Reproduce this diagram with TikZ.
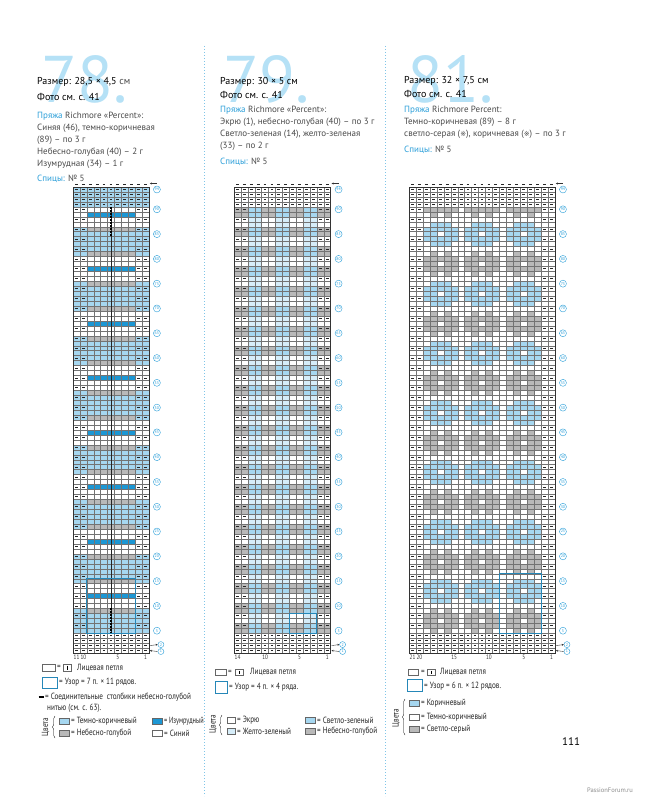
\documentclass[tikz,border=0pt]{standalone}
\usepackage{fontspec}
\usetikzlibrary{arrows.meta,decorations.pathreplacing}
\setmainfont{PT Sans}
\newfontfamily\cond{PT Sans}[FakeStretch=0.8]
\newfontfamily\condn{PT Sans}[FakeStretch=0.7]
\newfontfamily\dejavu{DejaVu Sans}
\definecolor{lb}{HTML}{A6D7F0}
\definecolor{gr}{HTML}{B9B9B9}
\definecolor{em}{HTML}{1C97D4}
\definecolor{pale}{HTML}{D6EDF9}
\definecolor{tblue}{HTML}{2B9FD9}
\definecolor{bign}{HTML}{B5E1F6}
\definecolor{txt}{HTML}{4A4A4A}
\tikzset{
 txtnode/.style={anchor=west, inner sep=0pt, font=\fontsize{9}{10}\selectfont, text=txt},
 headnode/.style={anchor=west, inner sep=0pt, font=\fontsize{10}{11}\selectfont, text=black},
 bignode/.style={anchor=base west, inner sep=0pt, font=\fontsize{66}{66}\selectfont, text=bign},
 lgnode/.style={anchor=west, inner sep=0pt, font=\cond\fontsize{9}{9}\selectfont, text=black!85},
 numnode/.style={inner sep=0pt, font=\cond\fontsize{6.5}{6.5}\selectfont, text=black!80},
 rowlab/.style={circle, draw=tblue, line width=0.4pt, fill=white, inner sep=0pt, minimum size=7pt, font=\fontsize{4}{4}\selectfont, text=tblue},
 rowlabs/.style={rowlab, minimum size=6pt},
 gridl/.style={draw=black!55, line width=0.25pt},
 frame/.style={draw=black!80, line width=0.5pt},
 dmark/.style={draw=black!85, line width=0.7pt},
 pbox/.style={draw=tblue!85!black, line width=0.9pt},
 lbox/.style={draw=black!60, line width=0.35pt},
 sepline/.style={draw=tblue!60, line width=0.9pt, dash pattern=on 0.9pt off 2.1pt},
 arr/.style={-{Stealth[length=2pt,width=2pt]}, line width=0.4pt, draw=black!80},
}
\newcommand\chartgrid[4]{% #1 x0, #2 ncols, #3 cw, #4 name
  \foreach \ii in {0,...,#2} \draw[gridl] ({#1+\ii*#3},187) -- ({#1+\ii*#3},653);
  \foreach \jj in {0,...,94} \draw[gridl] (#1,{653-\jj*4.9574}) -- ({#1+#2*#3},{653-\jj*4.9574});
  \draw[frame] (#1,187) rectangle ({#1+#2*#3},653);
  \foreach \ii in {1,...,#2} \draw[dmark] ({#1+(\ii-0.5)*#3-1.4},184) -- ++(2.8,0);
  \coordinate (#4ta) at ({#1+#2*#3+8},183.5);
  \coordinate (#4tb) at ({#1+#2*#3+1},183.5);
  \draw[arr] (#4ta) -- (#4tb);
  \foreach \nn in {90,85,...,5} \node[rowlab] (#4l\nn) at ({#1+#2*#3+8},{653-(\nn-0.5)*4.9574}) {\nn};
  \node[rowlab] (#4l94) at ({#1+#2*#3+8},{653-93.5*4.9574}) {94};
  \node[rowlabs] (#4r2) at ({#1+#2*#3+12},{653-1.7*4.9574}) {2};
  \node[rowlabs] (#4r1) at ({#1+#2*#3+12},{653-0.3*4.9574}) {1};
  \coordinate (#4a2) at ({#1+#2*#3+1},{653-1.5*4.9574});
  \coordinate (#4a1) at ({#1+#2*#3+1},{653-0.5*4.9574});
  \draw[arr] (#4a2) -- (#4r2.west);
  \draw[arr] (#4r1.west) -- (#4a1);
}
\newcommand\dashcell[3]{%
  \draw[dmark] ({#1+(\cl-0.5)*#2-1.4},{653-(\rw-0.5)*4.9574}) -- ++(2.8,0);
}
\begin{document}
\begin{tikzpicture}[x=1pt,y=-1pt]
\useasboundingbox (0,0) rectangle (646,800);
\fill[white] (0,0) rectangle (646,800);

\draw[sepline] (204,46) -- (204,796);
\draw[sepline] (385,46) -- (385,796);

\node[bignode] (bA) at (41,102) {78.};
\node[bignode] (bB) at (223,102) {79.};
\node[bignode] (bC) at (407,102) {81.};

\node[headnode] (hA1) at (37,82) {Размер: 28,5 × 4,5 \textcolor{txt}{см}};
\node[headnode] (hA2) at (37,97) {Фото см. с. 41};
\node[txtnode] (hA3) at (37,116) {\textcolor{tblue}{Пряжа} Richmore «Percent»:};
\node[txtnode] (hA4) at (37,128) {Синяя (46), темно-коричневая};
\node[txtnode] (hA5) at (37,140) {(89) – по 3 г};
\node[txtnode] (hA6) at (37,152) {Небесно-голубая (40) – 2 г};
\node[txtnode] (hA7) at (37,164) {Изумрудная (34) – 1 г};
\node[txtnode] (hA8) at (37,179) {\textcolor{tblue}{Спицы:} № 5};

\node[headnode] (hB1) at (220,82) {Размер: 30 × 5 см};
\node[headnode] (hB2) at (220,95) {Фото см. с. 41};
\node[txtnode] (hB3) at (220,110) {\textcolor{tblue}{Пряжа} Richmore «Percent»:};
\node[txtnode] (hB4) at (220,122) {Экрю (1), небесно-голубая (40) – по 3 г};
\node[txtnode] (hB5) at (220,134) {Светло-зеленая (14), желто-зеленая};
\node[txtnode] (hB6) at (220,146) {(33) – по 2 г};
\node[txtnode] (hB7) at (220,162) {\textcolor{tblue}{Спицы:} № 5};

\node[headnode] (hC1) at (404,81) {Размер: 32 × 7,5 см};
\node[headnode] (hC2) at (404,94) {Фото см. с. 41};
\node[txtnode] (hC3) at (404,110) {\textcolor{tblue}{Пряжа} Richmore Percent:};
\node[txtnode] (hC4) at (404,122) {Темно-коричневая (89) – 8 г};
\node[txtnode] (hC5) at (404,134) {светло-серая ({\dejavu\fontsize{7}{7}\selectfont ※}), коричневая ({\dejavu\fontsize{7}{7}\selectfont ※}) – по 3 г};
\node[txtnode] (hC6) at (404,150) {\textcolor{tblue}{Спицы:} № 5};

% ================= CHART 78 =================
\foreach \rw in {1,...,94}{%
  \def\alld{0}%
  \ifnum\rw<5 \def\edgec{white}\def\innc{white}\def\alld{1}%
  \else\ifnum\rw>90 \def\edgec{lb}\def\innc{lb}\def\alld{1}%
  \else
    \pgfmathtruncatemacro\kk{mod(\rw-5,11)}%
    \ifnum\kk<4 \def\edgec{lb}\def\innc{lb}%
    \else\ifnum\kk=4 \def\edgec{lb}\def\innc{gr}%
    \else\ifnum\kk=10 \def\edgec{lb}\def\innc{gr}%
    \else\ifnum\kk=7 \def\edgec{white}\def\innc{em}%
    \else \def\edgec{white}\def\innc{white}%
    \fi\fi\fi\fi
  \fi\fi
  \foreach \cl in {1,...,11}{%
    \ifnum\cl<3 \edef\cellc{\edgec}\else\ifnum\cl>9 \edef\cellc{\edgec}\else\edef\cellc{\innc}\fi\fi
    \fill[fill=\cellc] ({73+(\cl-1)*6.9},{653-\rw*4.9574}) rectangle ++(6.9,4.9574);
    \def\dmk{0}%
    \ifnum\alld=1 \def\dmk{1}\fi
    \ifodd\rw\else \ifnum\cl<3 \def\dmk{1}\fi \ifnum\cl>9 \def\dmk{1}\fi \fi
    \ifnum\dmk=1 \dashcell{73}{6.9}{}\fi
  }
}
\chartgrid{73}{11}{6.9}{A}
\draw[line width=0.5pt, black!85] (110.95,{653-90*4.9574}) -- (110.95,{653-4*4.9574});
\draw[line width=1.2pt, black, dash pattern=on 1.8pt off 1.2pt] (110.95,{653-90*4.9574}) -- (110.95,{653-84*4.9574});
\draw[line width=1.2pt, black, dash pattern=on 1.8pt off 1.2pt] (110.95,{653-9*4.9574}) -- (110.95,{653-4*4.9574});
\draw[pbox] (86.8,{653-15*4.9574}) rectangle (135.1,{653-4*4.9574});
\node[numnode] (nA11) at (76.5,657) {11};
\node[numnode] (nA10) at (83.4,657) {10};
\node[numnode] (nA5) at (117.9,657) {5};
\node[numnode] (nA1) at (145.5,657) {1};

% ================= CHART 79 =================
\foreach \rw in {1,...,94}{%
  \def\alld{0}%
  \ifnum\rw<5 \def\edgec{white}\def\bgc{white}\def\stc{white}\def\alld{1}%
  \else\ifnum\rw>90 \def\edgec{white}\def\bgc{white}\def\stc{white}\def\alld{1}%
  \else
    \pgfmathtruncatemacro\kk{mod(\rw-5,4)}%
    \ifnum\kk<2 \def\edgec{gr}\def\bgc{gr}\def\stc{lb}\else\def\edgec{white}\def\bgc{white}\def\stc{pale}\fi
  \fi\fi
  \foreach \cl in {1,...,14}{%
    \ifnum\cl<3 \edef\cellc{\edgec}\else\ifnum\cl>12 \edef\cellc{\edgec}\else
      \pgfmathtruncatemacro\mm{mod(\cl-3,4)}%
      \ifnum\mm<2 \edef\cellc{\stc}\else\edef\cellc{\bgc}\fi\fi\fi
    \fill[fill=\cellc] ({234+(\cl-1)*6.9},{653-\rw*4.9574}) rectangle ++(6.9,4.9574);
    \def\dmk{0}%
    \ifnum\alld=1 \def\dmk{1}\fi
    \ifodd\rw\else \ifnum\cl<3 \def\dmk{1}\fi \ifnum\cl>12 \def\dmk{1}\fi \fi
    \ifnum\dmk=1 \dashcell{234}{6.9}{}\fi
  }
}
\chartgrid{234}{14}{6.9}{B}
\draw[pbox] (289.2,{653-8*4.9574}) rectangle (316.8,{653-4*4.9574});
\node[numnode] (nB14) at (237.5,657) {14};
\node[numnode] (nB10) at (265.1,657) {10};
\node[numnode] (nB5) at (299.6,657) {5};
\node[numnode] (nB1) at (327.2,657) {1};

% ================= CHART 81 =================
\foreach \rw in {1,...,94}{%
  \def\alld{0}\def\patt{{0,0,0,0,0}}\def\pcol{white}%
  \ifnum\rw<5 \def\alld{1}\else\ifnum\rw>90 \def\alld{1}\else
    \pgfmathtruncatemacro\kk{mod(\rw-5,12)}%
    \ifcase\kk \def\patt{{0,1,0,1,0}}\def\pcol{gr}%
    \or \def\patt{{1,1,1,1,1}}\def\pcol{gr}%
    \or \def\patt{{1,1,0,1,1}}\def\pcol{gr}%
    \or \def\patt{{1,1,1,1,1}}\def\pcol{gr}%
    \or \def\patt{{0,1,0,1,0}}\def\pcol{gr}%
    \or
    \or \def\patt{{0,1,1,1,0}}\def\pcol{lb}%
    \or \def\patt{{1,1,1,1,1}}\def\pcol{lb}%
    \or \def\patt{{1,1,0,1,1}}\def\pcol{lb}%
    \or \def\patt{{1,1,1,1,1}}\def\pcol{lb}%
    \or \def\patt{{0,1,1,1,0}}\def\pcol{lb}%
    \or
    \fi
  \fi\fi
  \foreach \cl in {1,...,21}{%
    \def\cellc{white}%
    \ifnum\cl>2 \ifnum\cl<20
      \pgfmathtruncatemacro\mm{mod(\cl-2,6)}%
      \ifnum\mm>0 \pgfmathtruncatemacro\vv{\patt[\mm-1]}\ifnum\vv=1 \edef\cellc{\pcol}\fi\fi
    \fi\fi
    \fill[fill=\cellc] ({409+(\cl-1)*6.95},{653-\rw*4.9574}) rectangle ++(6.95,4.9574);
    \def\dmk{0}%
    \ifnum\alld=1 \def\dmk{1}\fi
    \ifodd\rw\else \ifnum\cl<3 \def\dmk{1}\fi \ifnum\cl>19 \def\dmk{1}\fi \fi
    \ifnum\dmk=1 \dashcell{409}{6.95}{}\fi
  }
}
\chartgrid{409}{21}{6.95}{C}
\draw[pbox] (499.35,{653-16*4.9574}) rectangle (541.05,{653-4*4.9574});
\node[numnode] (nC21) at (412.5,657) {21};
\node[numnode] (nC20) at (419.4,657) {20};
\node[numnode] (nC15) at (454.2,657) {15};
\node[numnode] (nC10) at (488.9,657) {10};
\node[numnode] (nC5) at (523.7,657) {5};
\node[numnode] (nC1) at (551.5,657) {1};

% ================= LEGEND 78 =================
\draw[lbox, fill=white] (42,664) rectangle (55,671);
\node[lgnode] (eA1) at (57,667.5) {=};
\draw[lbox, fill=white] (63,664) rectangle (71,671);
\draw[line width=0.6pt] (67,665.5) -- (67,669.5);
\node[lgnode] (tA1) at (77,667.5) {Лицевая петля};
\draw[pbox] (42,677) rectangle (57,688);
\node[lgnode] (tA2) at (59,682.5) {= Узор = 7 п. × 11 рядов.};
\draw[line width=1.6pt] (38.5,697) -- (44,697);
\node[lgnode] (tA3) at (45,697) {= Соединительные \ столбики небесно-голубой};
\node[lgnode] (tA4) at (47,708) {нитью (см. с. 63).};
\node[lgnode, anchor=center, rotate=90] (cA) at (45.5,727) {Цвета};
\draw[decorate, decoration={brace, amplitude=2.5pt}, line width=0.4pt] (55,738) -- (55,716);
\draw[lbox, fill=lb] (59,718) rectangle (69,724);
\node[lgnode] (tA5) at (71,721) {= Темно-коричневый};
\draw[lbox, fill=gr] (59,730) rectangle (69,736);
\node[lgnode] (tA6) at (71,733) {= Небесно-голубой};
\draw[lbox, fill=em] (152,718) rectangle (162,724);
\node[lgnode, font=\condn\fontsize{9}{9}\selectfont] (tA7) at (164,721) {= Изумрудный};
\draw[lbox, fill=white] (152,730) rectangle (162,736);
\node[lgnode] (tA8) at (164,733) {= Синий};

% ================= LEGEND 79 =================
\draw[lbox, fill=white] (215,669) rectangle (226,675);
\node[lgnode] (eB1) at (228,672) {=};
\draw[lbox, fill=white] (235,669) rectangle (243,675);
\draw[line width=0.6pt] (239,670.5) -- (239,673.5);
\node[lgnode] (tB1) at (250,672) {Лицевая петля};
\draw[pbox] (215,681) rectangle (227,693);
\node[lgnode] (tB2) at (229,687) {= Узор = 4 п. × 4 ряда.};
\node[lgnode, anchor=center, rotate=90] (cB) at (213,724) {Цвета};
\draw[decorate, decoration={brace, amplitude=2.5pt}, line width=0.4pt] (222,735) -- (222,715);
\draw[lbox, fill=white] (227,717) rectangle (235,723);
\node[lgnode] (tB3) at (237,720) {= Экрю};
\draw[lbox, fill=pale] (227,728) rectangle (235,734);
\node[lgnode] (tB4) at (237,731) {= Желто-зеленый};
\draw[lbox, fill=lb] (305,717) rectangle (315,723);
\node[lgnode] (tB5) at (317,720) {= Светло-зеленый};
\draw[lbox, fill=gr] (305,728) rectangle (315,734);
\node[lgnode] (tB6) at (317,731) {= Небесно-голубой};

% ================= LEGEND 81 =================
\draw[lbox, fill=white] (408,669) rectangle (418,675);
\node[lgnode] (eC1) at (421,672) {=};
\draw[lbox, fill=white] (427,669) rectangle (435,675);
\draw[line width=0.6pt] (431,670.5) -- (431,673.5);
\node[lgnode] (tC1) at (440,672) {Лицевая петля};
\draw[pbox] (407,679) rectangle (422,691);
\node[lgnode] (tC2) at (424,686) {= Узор = 6 п. × 12 рядов.};
\node[lgnode, anchor=center, rotate=90] (cC) at (396,718) {Цвета};
\draw[decorate, decoration={brace, amplitude=2.5pt}, line width=0.4pt] (405,735) -- (405,699);
\draw[lbox, fill=lb] (409,700) rectangle (419,706);
\node[lgnode] (tC3) at (421,703) {= Коричневый};
\draw[lbox, fill=white] (409,714) rectangle (419,720);
\node[lgnode] (tC4) at (421,717) {= Темно-коричневый};
\draw[lbox, fill=gr] (409,726) rectangle (419,732);
\node[lgnode] (tC5) at (421,729) {= Светло-серый};

\node[inner sep=0pt, font=\fontsize{11}{11}\selectfont] (pg) at (571,742) {111};
\node[inner sep=0pt, font=\fontsize{6.5}{7}\selectfont, text=black!45] (wm) at (610,790) {PassionForum.ru};
\end{tikzpicture}
\end{document}
